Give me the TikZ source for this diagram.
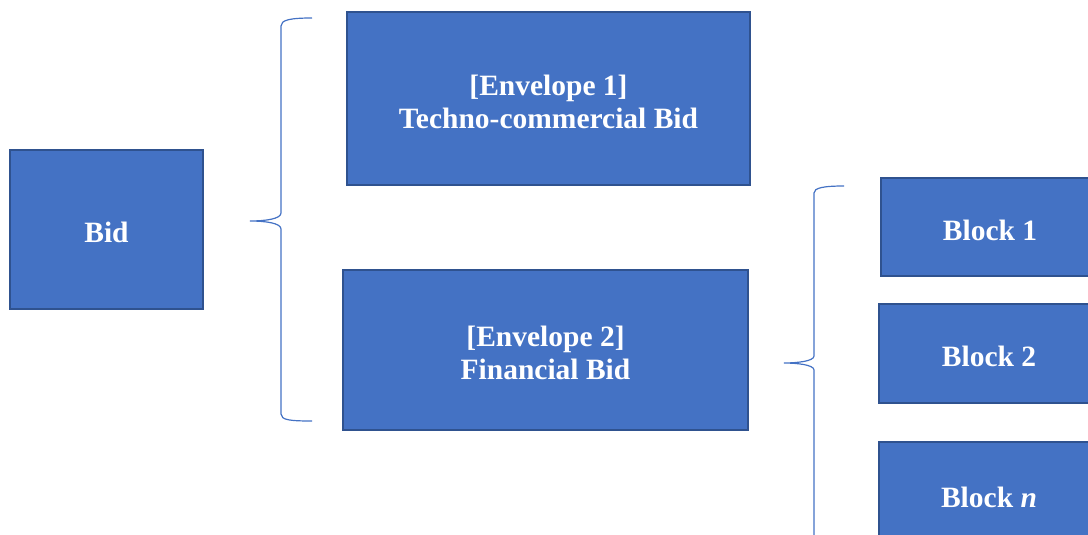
\documentclass[tikz,border=0pt]{standalone}
\usepackage{fontspec}
\setmainfont{Liberation Serif}
\begin{document}
\begin{tikzpicture}[x=1pt,y=-1pt,
  box/.style={draw=boxedge, line width=2pt, fill=boxfill, inner sep=0pt},
  txt/.style={text=white, font=\fontsize{29.5}{33}\selectfont\bfseries, align=center, inner sep=0pt, yshift=-3pt},
  brace/.style={draw=bracecol, line width=1.2pt}]
\definecolor{boxfill}{HTML}{4472C4}
\definecolor{boxedge}{HTML}{2F528F}
\definecolor{bracecol}{HTML}{4472C4}
\useasboundingbox (0,0) rectangle (1088,535);
\node[box, minimum width=193pt, minimum height=159pt, label={[txt]center:Bid}] (bid) at (106.5,229.5) {};
\node[box, minimum width=403pt, minimum height=173pt, label={[txt]center:{[Envelope 1]\\Techno-commercial Bid}}] (env1) at (548.5,98.5) {};
\node[box, minimum width=405pt, minimum height=160pt, label={[txt]center:{[Envelope 2]\\Financial Bid}}] (env2) at (545.5,350) {};
\node[box, minimum width=218pt, minimum height=98pt, label={[txt]center:Block 1}] (b1) at (990,227) {};
\node[box, minimum width=220pt, minimum height=99pt, label={[txt]center:Block 2}] (b2) at (989,353.5) {};
\node[box, minimum width=220pt, minimum height=104pt, label={[txt]center:{Block \textit{n}}}] (bn) at (989,494) {};
% left brace
\coordinate (l1) at (312,18);
\coordinate (ltip) at (250,221);
\coordinate (l2) at (312,421);
\draw[brace] (l1) .. controls (290,18) and (281,20) .. (281,26)
  -- (281,213) .. controls (281,219) and (265,221) .. (ltip)
  .. controls (265,221) and (281,223) .. (281,229)
  -- (281,414) .. controls (281,420) and (290,421) .. (l2);
% right brace
\coordinate (r1) at (844,186);
\coordinate (rtip) at (784,363);
\coordinate (r2) at (814,540);
\draw[brace] (r1) .. controls (823,186) and (814,188) .. (814,193)
  -- (814,356) .. controls (814,361) and (798,363) .. (rtip)
  .. controls (798,363) and (814,365) .. (814,370)
  -- (r2);
\end{tikzpicture}
\end{document}
